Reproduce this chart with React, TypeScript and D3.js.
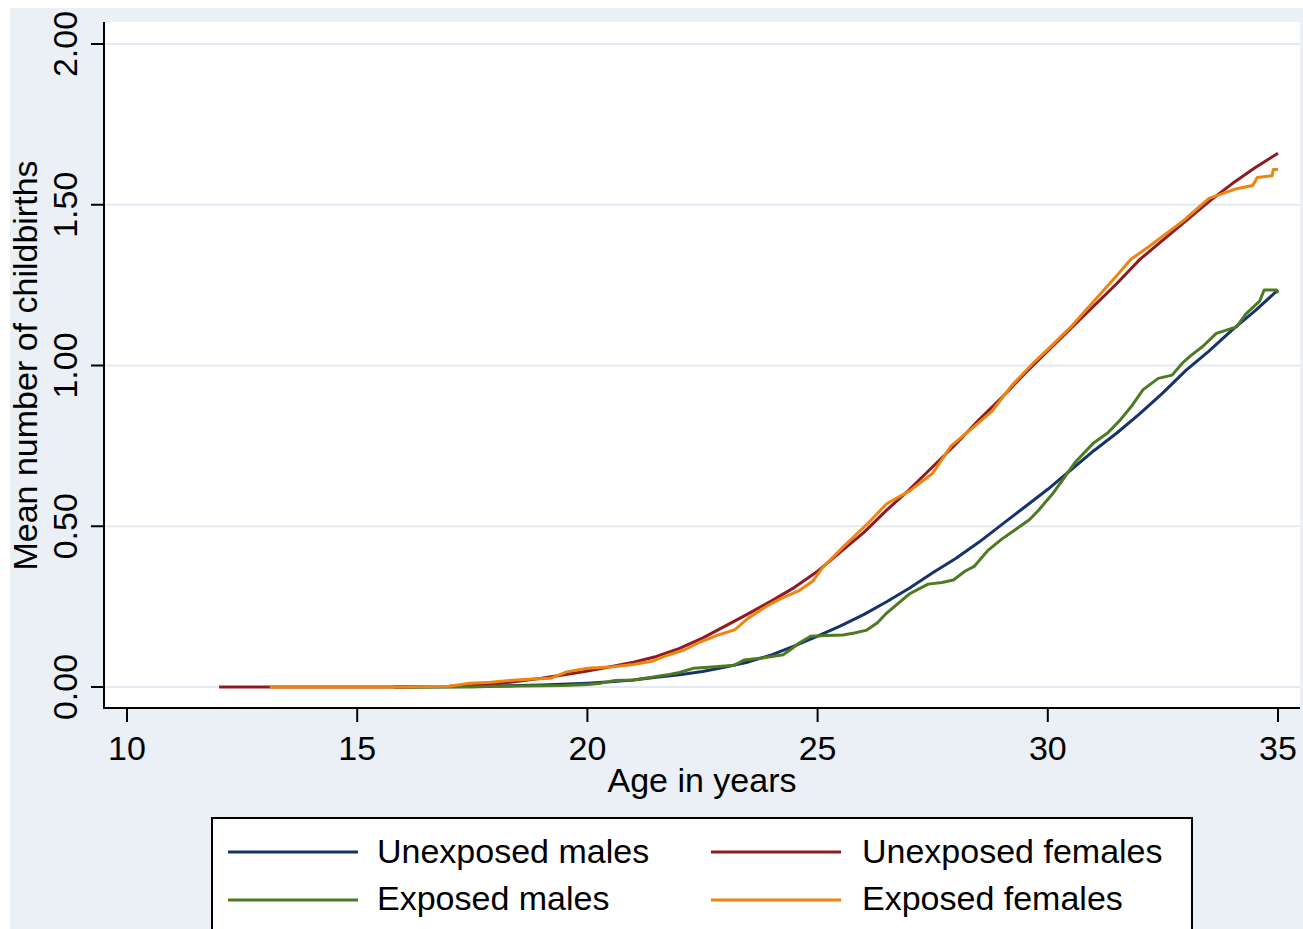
import React from "react";
import * as d3 from "d3";

// ---- Data (age in years, mean number of childbirths) ----
const unexposedMales: [number, number][] = [
  [15.8, 0], [17, 0.001], [18, 0.003], [19, 0.006], [20, 0.012], [20.5, 0.016], [21, 0.022],
  [21.5, 0.03], [22, 0.038], [22.5, 0.048], [23, 0.062], [23.5, 0.078], [24, 0.1], [24.5, 0.128],
  [25, 0.158], [25.5, 0.19], [26, 0.225], [26.5, 0.265], [27, 0.308], [27.5, 0.355], [28, 0.4],
  [28.5, 0.45], [29, 0.505], [29.5, 0.56], [30, 0.615], [30.5, 0.675], [31, 0.735], [31.5, 0.79],
  [32, 0.85], [32.5, 0.915], [33, 0.985], [33.5, 1.045], [34, 1.11], [34.5, 1.17], [35, 1.235],
];

const unexposedFemales: [number, number][] = [
  [12, 0], [13, 0], [14, 0], [15, 0], [16, 0], [17, 0.002], [17.5, 0.005], [18, 0.01], [18.5, 0.018],
  [19, 0.027], [19.5, 0.038], [20, 0.05], [20.5, 0.063], [21, 0.077], [21.5, 0.095], [22, 0.12],
  [22.5, 0.152], [23, 0.19], [23.5, 0.228], [24, 0.268], [24.5, 0.31], [25, 0.36], [25.5, 0.42],
  [26, 0.48], [26.5, 0.55], [27, 0.615], [27.5, 0.685], [28, 0.755], [28.5, 0.83], [29, 0.9],
  [29.5, 0.975], [30, 1.045], [30.5, 1.115], [31, 1.185], [31.5, 1.255], [32, 1.33], [32.5, 1.39],
  [33, 1.45], [33.5, 1.51], [34, 1.565], [34.5, 1.615], [35, 1.66],
];

const exposedMales: [number, number][] = [
  [16, 0], [17, 0], [17.5, 0], [18, 0.002], [18.5, 0.003], [19, 0.004], [19.5, 0.005], [20, 0.008],
  [20.3, 0.012], [20.6, 0.02], [21, 0.022], [21.4, 0.03], [21.7, 0.037], [22, 0.045], [22.3, 0.058],
  [22.7, 0.062], [23.2, 0.068], [23.4, 0.084], [23.8, 0.09], [24.25, 0.1], [24.4, 0.115],
  [24.6, 0.137], [24.85, 0.158], [25.2, 0.16], [25.55, 0.162], [25.8, 0.168], [26.07, 0.177],
  [26.3, 0.2], [26.5, 0.23], [26.75, 0.26], [27.0, 0.29], [27.2, 0.305], [27.4, 0.32], [27.7, 0.325],
  [27.95, 0.333], [28.2, 0.36], [28.4, 0.375], [28.7, 0.425], [29.0, 0.46], [29.3, 0.49],
  [29.6, 0.52], [29.8, 0.55], [30.1, 0.6], [30.35, 0.65], [30.6, 0.7], [31.0, 0.76], [31.3, 0.79],
  [31.57, 0.83], [31.8, 0.87], [32.07, 0.925], [32.4, 0.96], [32.7, 0.97], [32.94, 1.01],
  [33.1, 1.03], [33.37, 1.06], [33.66, 1.1], [34.1, 1.12], [34.3, 1.16], [34.6, 1.2],
  [34.7, 1.235], [34.97, 1.235], [35, 1.225],
];

const exposedFemales: [number, number][] = [
  [13.1, 0], [15, 0], [16, 0], [17, 0.002], [17.45, 0.012], [17.9, 0.015], [18.3, 0.02],
  [18.8, 0.025], [19.2, 0.027], [19.55, 0.047], [20, 0.058], [20.55, 0.063], [21, 0.07],
  [21.4, 0.08], [21.7, 0.097], [22.1, 0.115], [22.45, 0.14], [22.8, 0.16], [23.2, 0.178],
  [23.5, 0.215], [23.9, 0.252], [24.2, 0.275], [24.6, 0.3], [24.9, 0.33], [25.1, 0.37],
  [25.55, 0.435], [26.1, 0.51], [26.5, 0.57], [27.0, 0.61], [27.5, 0.665], [27.9, 0.75],
  [28.4, 0.81], [28.8, 0.86], [29.2, 0.935], [29.7, 1.01], [30, 1.05], [30.5, 1.12], [31, 1.2],
  [31.5, 1.28], [31.8, 1.33], [32.2, 1.37], [32.94, 1.45], [33.5, 1.52], [34.1, 1.55],
  [34.45, 1.56], [34.55, 1.585], [34.87, 1.59], [34.9, 1.61], [35, 1.61],
];

const xTicks = [10, 15, 20, 25, 30, 35];
const yTicks = [0, 0.5, 1, 1.5, 2];

const seriesNames = ["Unexposed males", "Unexposed females", "Exposed males", "Exposed females"];
const seriesColors = ["#16336a", "#8e1b22", "#4d7a22", "#ef8510"];
const seriesData = [unexposedMales, unexposedFemales, exposedMales, exposedFemales];

const W = 1303;
const H = 929;
const FONT = "'Liberation Sans', Arial, Helvetica, sans-serif";

export default function App() {
  const x = d3.scaleLinear().domain([10, 35]).range([127, 1278]);
  const y = d3.scaleLinear().domain([0, 2]).range([687, 44]);
  const line = d3
    .line<[number, number]>()
    .x((d) => x(d[0]))
    .y((d) => y(d[1]))
    .curve(d3.curveLinear);

  const plotL = 104, plotT = 22, plotR = 1300, plotB = 708;

  const legendItems = [
    { i: 0, lx: 228, tx: 377, ly: 852, ty: 863 },
    { i: 1, lx: 711, tx: 862, ly: 852, ty: 863 },
    { i: 2, lx: 228, tx: 377, ly: 900, ty: 910 },
    { i: 3, lx: 711, tx: 862, ly: 900, ty: 910 },
  ];

  return (
    <svg
      width={W}
      height={H}
      style={{ position: "absolute", left: 0, top: 0, display: "block" }}
      fontFamily={FONT}
    >
      <rect x={0} y={0} width={W} height={H} fill="#ffffff" />
      <rect x={10} y={8} width={W - 10} height={H - 8} fill="#eaf0f6" />
      <rect x={plotL} y={plotT} width={plotR - plotL} height={plotB - plotT} fill="#ffffff" />

      {/* gridlines */}
      {yTicks.map((t) => (
        <line key={"g" + t} x1={plotL} x2={plotR} y1={y(t)} y2={y(t)} stroke="#e4eaf3" strokeWidth={2} />
      ))}

      {/* series */}
      {seriesData.map((d, i) => (
        <path
          key={seriesNames[i]}
          d={line(d) || ""}
          fill="none"
          stroke={seriesColors[i]}
          strokeWidth={3}
          strokeLinejoin="round"
        />
      ))}

      {/* axes */}
      <line x1={plotL} x2={plotL} y1={plotT} y2={plotB} stroke="#000" strokeWidth={2} />
      <line x1={plotL - 1} x2={plotR} y1={plotB} y2={plotB} stroke="#000" strokeWidth={2} />

      {yTicks.map((t) => (
        <g key={"yt" + t}>
          <line x1={91} x2={plotL} y1={y(t)} y2={y(t)} stroke="#000" strokeWidth={2} />
          <text
            transform={`translate(77,${y(t)}) rotate(-90)`}
            textAnchor="middle"
            fontSize={34}
            fill="#000"
          >
            {t.toFixed(2)}
          </text>
        </g>
      ))}
      {xTicks.map((t) => (
        <g key={"xt" + t}>
          <line x1={x(t)} x2={x(t)} y1={plotB} y2={722} stroke="#000" strokeWidth={2} />
          <text x={x(t)} y={760} textAnchor="middle" fontSize={34} fill="#000">
            {t}
          </text>
        </g>
      ))}

      <text x={(plotL + plotR) / 2} y={792} textAnchor="middle" fontSize={34} fill="#000">
        Age in years
      </text>
      <text
        transform={`translate(37,${y(1)}) rotate(-90)`}
        textAnchor="middle"
        fontSize={34}
        fill="#000"
      >
        Mean number of childbirths
      </text>

      {/* legend */}
      <rect x={212} y={818} width={980} height={140} fill="#ffffff" stroke="#000" strokeWidth={2} />
      {legendItems.map((it) => (
        <g key={"lg" + it.i}>
          <line
            x1={it.lx}
            x2={it.lx + 130}
            y1={it.ly}
            y2={it.ly}
            stroke={seriesColors[it.i]}
            strokeWidth={3}
          />
          <text x={it.tx} y={it.ty} fontSize={34} fill="#000">
            {seriesNames[it.i]}
          </text>
        </g>
      ))}
    </svg>
  );
}
